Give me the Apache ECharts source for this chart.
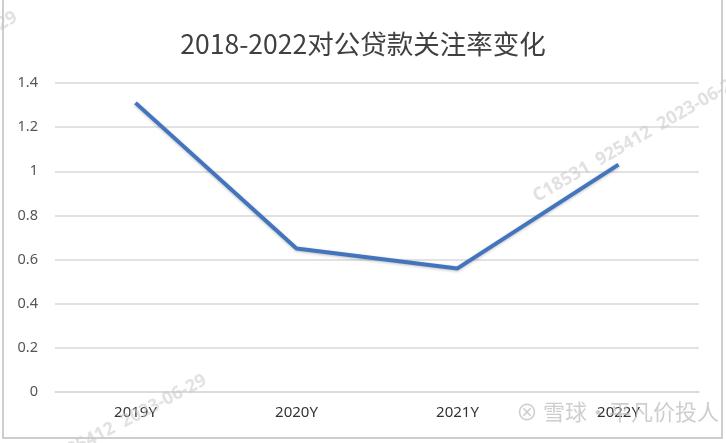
<!DOCTYPE html>
<html><head><meta charset="utf-8">
<script src="https://cdn.jsdelivr.net/npm/echarts@6/dist/echarts.min.js"></script>
<style>html,body{margin:0;padding:0;background:#fff}#c{width:726px;height:443px}</style>
</head><body><div id="c"></div>
<script>
var categories = ['2019Y', '2020Y', '2021Y', '2022Y'];
var values = [1.31, 0.65, 0.56, 1.03];
var yTicks = [0, 0.2, 0.4, 0.6, 0.8, 1, 1.2, 1.4];
var titleText = '2018-2022对公贷款关注率变化';

var chart = echarts.init(document.getElementById('c'));
chart.setOption({
  backgroundColor: '#fff',
  animation: false,
  title: {
    text: titleText, left: 'center', top: 26,
    textStyle: {fontFamily: 'Noto Sans CJK SC', fontSize: 26.5, fontWeight: 'normal', color: '#404040'}
  },
  grid: {left: 55, right: 27, top: 83, bottom: 51},
  xAxis: {
    type: 'category', data: categories, boundaryGap: true,
    axisLine: {show: true, lineStyle: {color: '#d9d9d9', width: 1.5}},
    axisTick: {show: false},
    axisLabel: {color: '#333', fontSize: 15, fontFamily: 'Noto Sans', margin: 13}
  },
  yAxis: {
    type: 'value', min: 0, max: 1.4, interval: 0.2,
    axisLine: {show: false}, axisTick: {show: false},
    splitLine: {lineStyle: {color: '#d9d9d9', width: 1.5}},
    axisLabel: {color: '#555', fontSize: 14.5, fontFamily: 'Noto Sans', margin: 17,
      formatter: function (v) { return String(Math.round(v * 10) / 10); }}
  },
  series: [{
    type: 'line', data: values, symbol: 'none',
    lineStyle: {color: '#4275BE', width: 4, shadowColor: 'rgba(0,0,0,0.25)', shadowBlur: 3, shadowOffsetY: 1}
  }],
  graphic: [
    {type: 'rect', shape: {x: 3, y: -2, width: 719, height: 440}, style: {fill: 'none', stroke: '#bfbfbf', lineWidth: 1.5}, z: 100},
    {type: 'text', x: 530, y: 190, rotation: Math.PI / 6,
      style: {text: 'C18531  925412  2023-06-29', fill: 'rgba(200,200,200,0.55)', font: 'bold 18px Noto Sans'}, z: 101},
    {type: 'text', x: 55, y: 448, rotation: Math.PI / 6.5,
      style: {text: '925412  2023-06-29', fill: 'rgba(200,200,200,0.55)', font: 'bold 18px Noto Sans'}, z: 101},
    {type: 'text', x: -70, y: 55, rotation: Math.PI / 6,
      style: {text: '2023-06-29', fill: 'rgba(200,200,200,0.55)', font: 'bold 18px Noto Sans'}, z: 101},
    {type: 'text', x: 516, y: 401,
      style: {text: '⊗ 雪球·平凡价投人', fill: 'rgba(190,190,190,0.75)', font: '22px Noto Sans CJK SC'}, z: 101}
  ]
});
</script></body></html>
